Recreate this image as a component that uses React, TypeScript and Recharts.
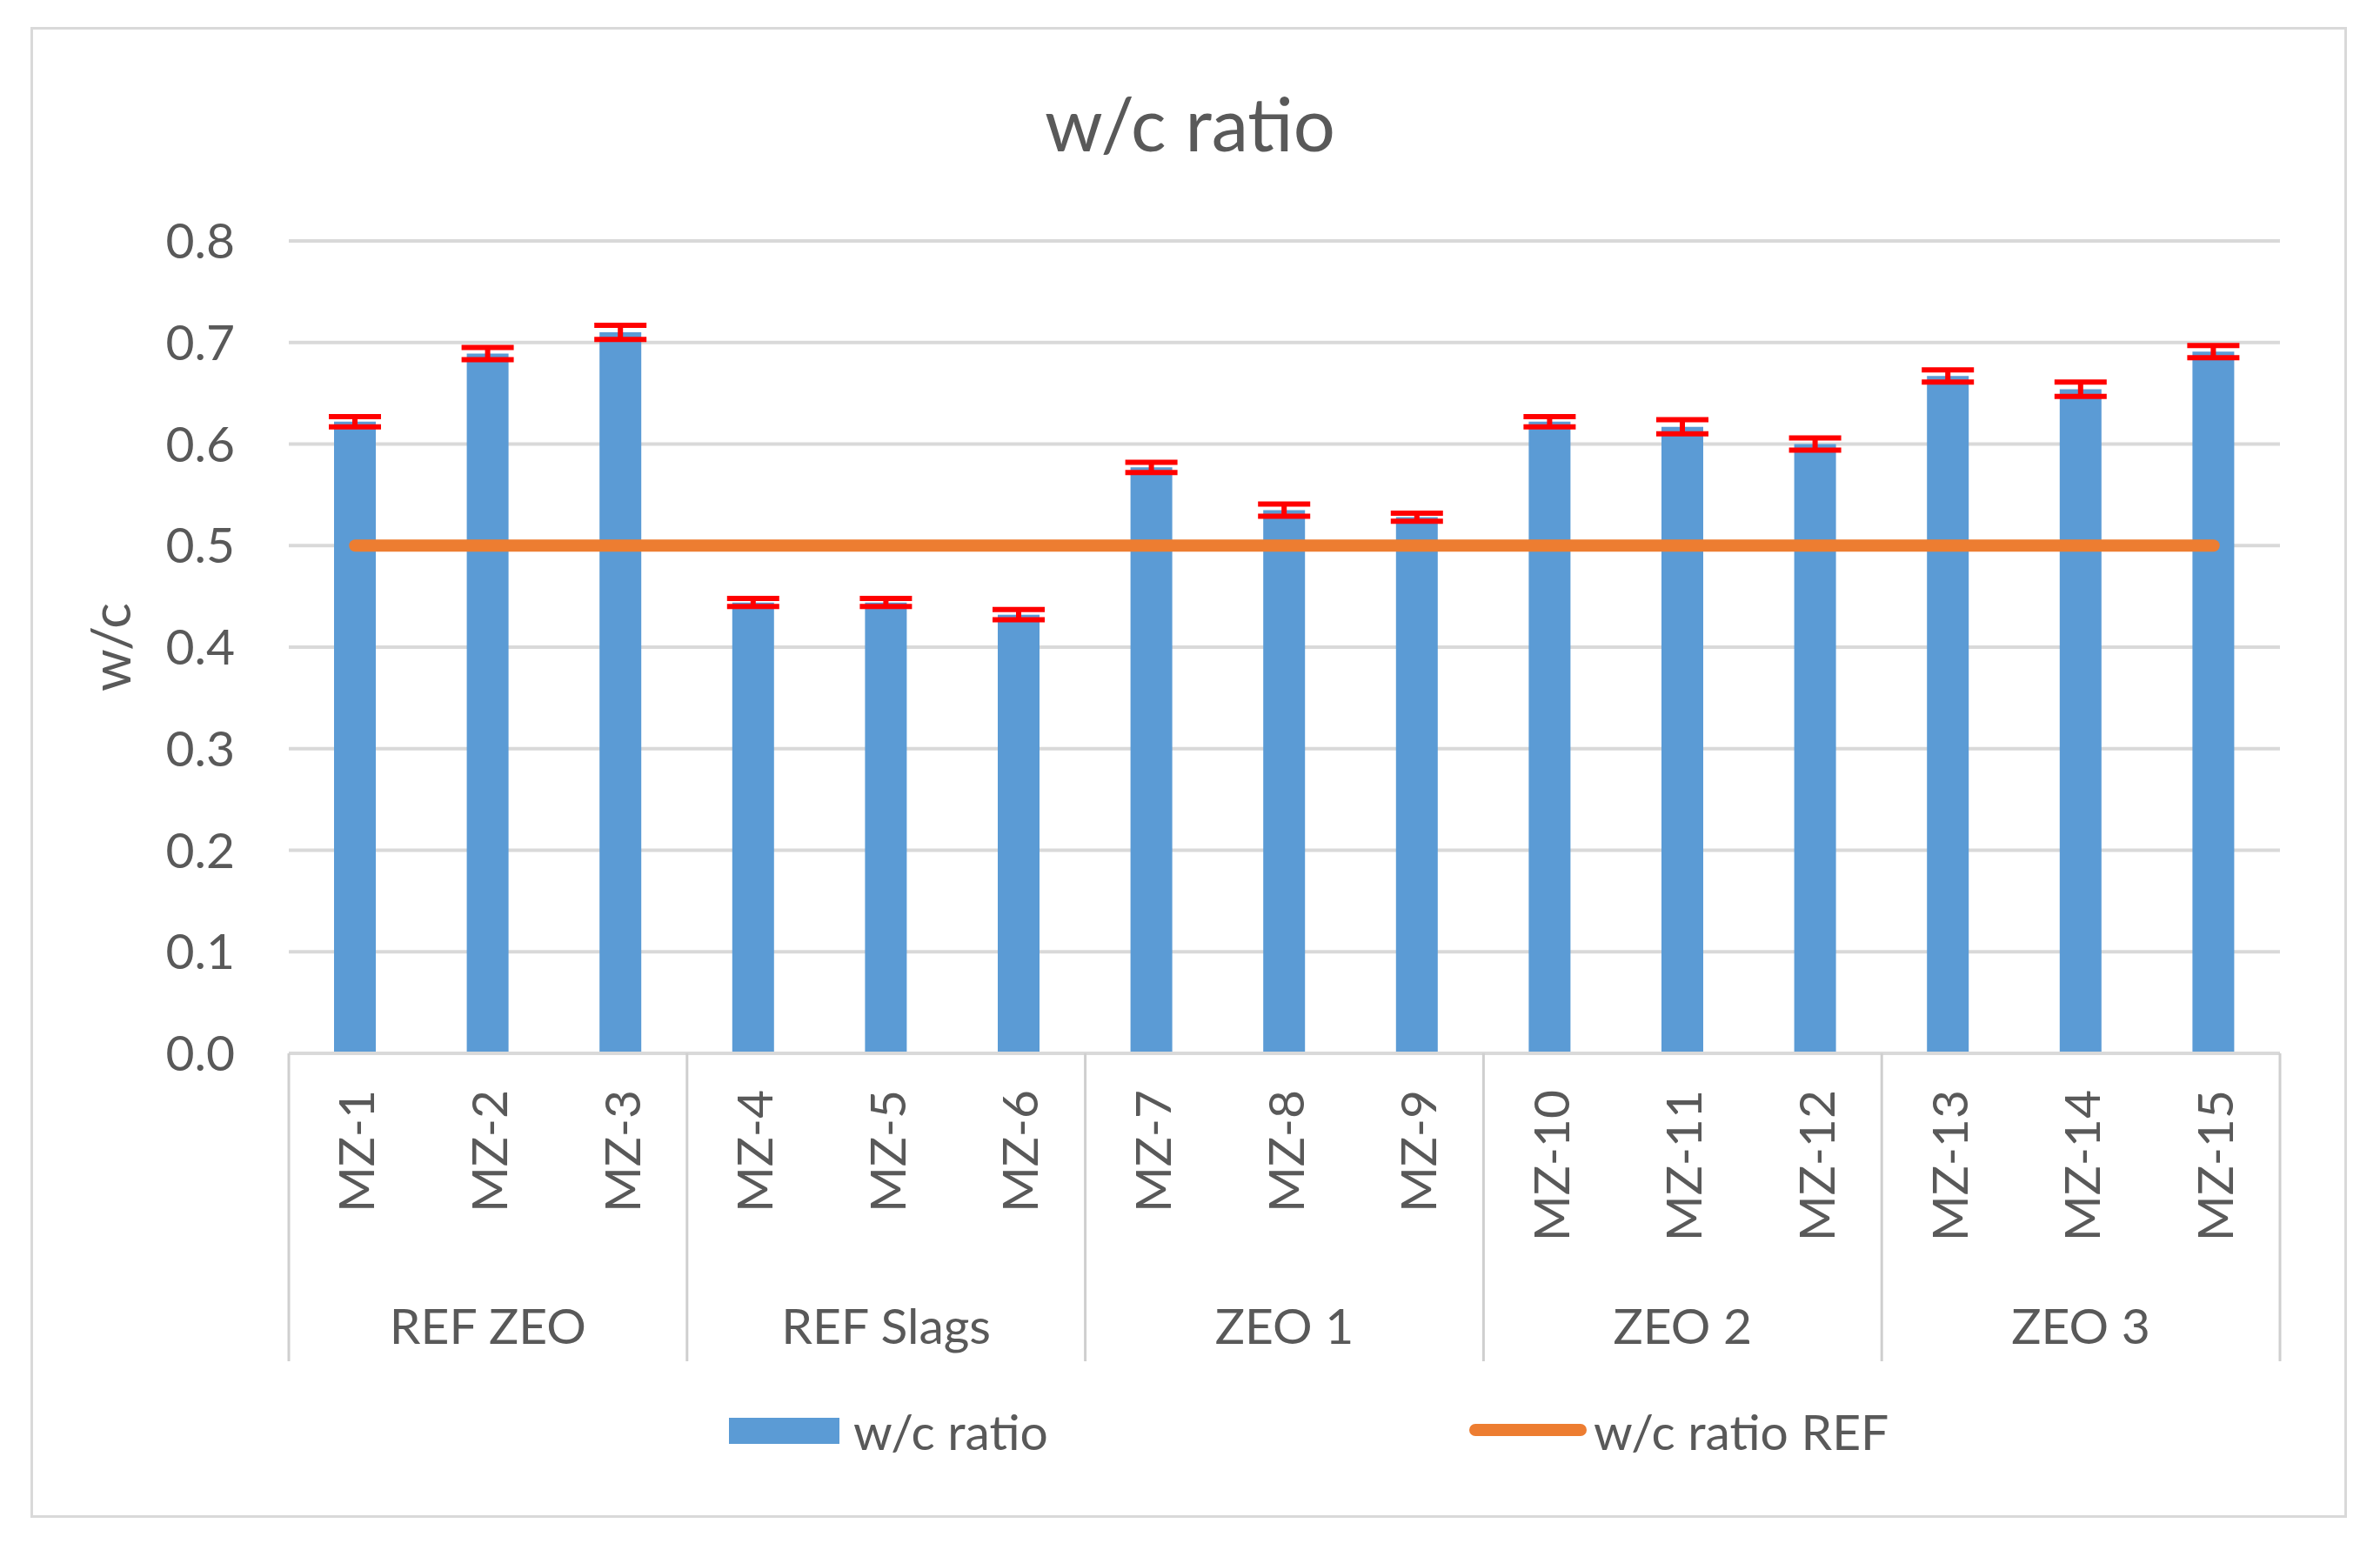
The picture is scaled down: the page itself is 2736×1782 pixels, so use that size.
import React from "react";
import {
  ComposedChart,
  Bar,
  Line,
  XAxis,
  YAxis,
  CartesianGrid,
  ErrorBar,
} from "recharts";

const categories = [
  "MZ-1", "MZ-2", "MZ-3", "MZ-4", "MZ-5", "MZ-6", "MZ-7", "MZ-8",
  "MZ-9", "MZ-10", "MZ-11", "MZ-12", "MZ-13", "MZ-14", "MZ-15",
];
const groups = ["REF ZEO", "REF Slags", "ZEO 1", "ZEO 2", "ZEO 3"];
const wcRatio = [
  0.622, 0.689, 0.71, 0.444, 0.444, 0.432, 0.577, 0.535,
  0.528, 0.622, 0.617, 0.6, 0.667, 0.654, 0.691,
];
const wcError = [
  0.005, 0.006, 0.007, 0.004, 0.004, 0.005, 0.005, 0.006,
  0.004, 0.005, 0.007, 0.006, 0.006, 0.007, 0.006,
];
const wcRef = [
  0.5, 0.5, 0.5, 0.5, 0.5, 0.5, 0.5, 0.5, 0.5, 0.5, 0.5, 0.5, 0.5, 0.5, 0.5,
];
const yTicks = [0, 0.1, 0.2, 0.3, 0.4, 0.5, 0.6, 0.7, 0.8];

// note: "ref" can't be used as a key, recharts spreads entries into props
const data = categories.map((name, i) => ({
  name,
  value: wcRatio[i],
  err: wcError[i],
  refRatio: wcRef[i],
}));

const FONT = "Lato, 'Open Sans', sans-serif";
const TEXT = "#595959";
const GRID = "#d9d9d9";
const BLUE = "#5B9BD5";
const ORANGE = "#ED7D31";

// two level category tick: rotated sample name, group name, separators
const CategoryTick = (props: any) => {
  const { x, y, payload, index } = props;
  const half = payload?.offset || 76.3;
  const last = categories.length - 1;
  return (
    <g>
      <text
        transform={`translate(${x},${y + 42}) rotate(-90)`}
        textAnchor="end"
        dominantBaseline="central"
        fill={TEXT}
        fontSize={57}
        fontFamily={FONT}
      >
        {payload.value}
      </text>
      {index % 3 === 0 && (
        <line x1={x - half} x2={x - half} y1={y} y2={y + 354} stroke="#cfcfcf" strokeWidth={3} />
      )}
      {index === last && (
        <line x1={x + half} x2={x + half} y1={y} y2={y + 354} stroke="#cfcfcf" strokeWidth={3} />
      )}
      {index % 3 === 1 && (
        <text
          x={x}
          y={y + 312}
          textAnchor="middle"
          dominantBaseline="central"
          fill={TEXT}
          fontSize={57}
          fontFamily={FONT}
        >
          {groups[Math.floor(index / 3)]}
        </text>
      )}
    </g>
  );
};

export default function App() {
  return (
    <div style={{ position: "absolute", left: 0, top: 0, width: 2736, height: 1782, background: "#fff" }}>
      <div
        style={{
          position: "absolute",
          left: 35,
          top: 31,
          width: 2657,
          height: 1708,
          border: "3px solid #d9d9d9",
        }}
      />
      <div
        style={{
          position: "absolute",
          left: 0,
          width: 2736,
          top: 88,
          textAlign: "center",
          fontFamily: FONT,
          fontSize: 85,
          color: TEXT,
          lineHeight: "106px",
        }}
      >
        w/c ratio
      </div>
      <div style={{ position: "absolute", left: 0, top: 0 }}>
        <ComposedChart
          width={2736}
          height={1782}
          data={data}
          margin={{ top: 277, right: 115, bottom: 171, left: 0 }}
        >
          <CartesianGrid vertical={false} stroke={GRID} strokeWidth={4} />
          <XAxis
            dataKey="name"
            interval={0}
            height={400}
            tickSize={0}
            tickMargin={0}
            axisLine={{ stroke: GRID, strokeWidth: 4 }}
            tickLine={false}
            tick={<CategoryTick />}
          />
          <YAxis
            width={332}
            domain={[0, 0.8]}
            ticks={yTicks}
            tickFormatter={(v: number) => v.toFixed(1)}
            axisLine={false}
            tickLine={false}
            tickSize={0}
            tickMargin={62}
            tick={{ fill: TEXT, fontSize: 57, fontFamily: FONT }}
            label={{
              content: (p: any) => {
                const vb = p.viewBox || {};
                const cy = (vb.y ?? 277) + (vb.height ?? 934) / 2;
                return (
                  <text
                    transform={`translate(126,${cy}) rotate(-90)`}
                    textAnchor="middle"
                    dominantBaseline="central"
                    fill={TEXT}
                    fontSize={62}
                    fontFamily={FONT}
                  >
                    w/c
                  </text>
                );
              },
            }}
          />
          <Bar dataKey="value" fill={BLUE} barSize={48} isAnimationActive={false}>
            <ErrorBar dataKey="err" width={30} stroke="#ff0000" strokeWidth={6} isAnimationActive={false} />
          </Bar>
          <Line
            dataKey="refRatio"
            stroke={ORANGE}
            strokeWidth={14}
            strokeLinecap="round"
            dot={false}
            activeDot={false}
            isAnimationActive={false}
          />
        </ComposedChart>
      </div>
      {/* legend */}
      <div style={{ position: "absolute", left: 838, top: 1630, width: 127, height: 30, background: BLUE }} />
      <div
        style={{
          position: "absolute",
          left: 981,
          top: 1610,
          fontFamily: FONT,
          fontSize: 57,
          color: TEXT,
          lineHeight: "70px",
        }}
      >
        w/c ratio
      </div>
      <div
        style={{
          position: "absolute",
          left: 1689,
          top: 1637,
          width: 135,
          height: 14,
          borderRadius: 7,
          background: ORANGE,
        }}
      />
      <div
        style={{
          position: "absolute",
          left: 1832,
          top: 1610,
          fontFamily: FONT,
          fontSize: 57,
          color: TEXT,
          lineHeight: "70px",
        }}
      >
        w/c ratio REF
      </div>
    </div>
  );
}
